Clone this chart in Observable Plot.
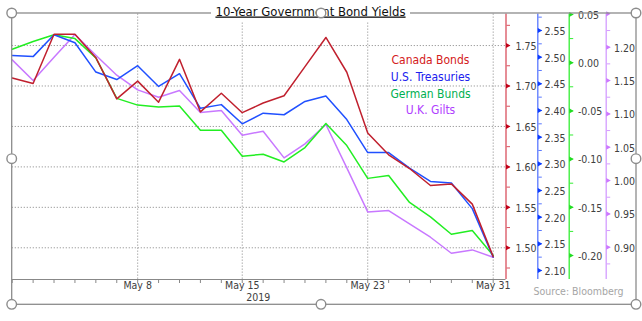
<!DOCTYPE html>
<html><head><meta charset="utf-8">
<script src="https://cdn.jsdelivr.net/npm/d3@7"></script>
<script src="https://cdn.jsdelivr.net/npm/@observablehq/plot@0.6"></script>
<style>
html,body{margin:0;padding:0;background:#fff;}
#chart{width:642px;height:321px;overflow:hidden;}
svg{display:block;}
</style></head><body><div id="chart"></div>
<script>
// ---- data ----
const dates = ["2019-04-30","2019-05-01","2019-05-02","2019-05-03","2019-05-06","2019-05-07","2019-05-08","2019-05-09","2019-05-10","2019-05-13","2019-05-14","2019-05-15","2019-05-16","2019-05-17","2019-05-20","2019-05-21","2019-05-22","2019-05-23","2019-05-24","2019-05-27","2019-05-28","2019-05-29","2019-05-30","2019-05-31"];
const xTickDates = ["2019-05-08","2019-05-15","2019-05-23","2019-05-31"];
const xTickLabels = ["May 8","May 15","May 23","May 31"];
const yearLabel = "2019";
const titleText = "10-Year Government Bond Yields";
const sourceText = "Source: Bloomberg";
const seriesNames = ["Canada Bonds","U.S. Treasuries","German Bunds","U.K. Gilts"];

const canada = [1.710,1.703,1.764,1.764,1.735,1.684,1.706,1.680,1.733,1.668,1.691,1.667,1.679,1.688,1.724,1.760,1.717,1.642,1.615,1.598,1.577,1.579,1.554,1.489];
const us     = [2.503,2.501,2.542,2.527,2.472,2.458,2.484,2.445,2.469,2.404,2.411,2.375,2.395,2.392,2.417,2.427,2.383,2.321,2.321,2.292,2.267,2.264,2.216,2.125];
const german = [0.014,0.022,0.029,0.025,0.005,-0.037,-0.044,-0.046,-0.045,-0.070,-0.070,-0.097,-0.095,-0.103,-0.088,-0.063,-0.086,-0.120,-0.117,-0.145,-0.160,-0.178,-0.174,-0.200];
const uk     = [1.181,1.150,1.185,1.219,1.188,1.158,1.136,1.125,1.135,1.102,1.105,1.068,1.074,1.034,1.055,1.084,1.019,0.953,0.955,0.935,0.915,0.891,0.896,0.885];

const canadaTicks = [1.50,1.55,1.60,1.65,1.70,1.75];
const canadaTickLabels = ["1.50","1.55","1.60","1.65","1.70","1.75"];
const usTicks = [2.10,2.15,2.20,2.25,2.30,2.35,2.40,2.45,2.50,2.55];
const usTickLabels = ["2.10","2.15","2.20","2.25","2.30","2.35","2.40","2.45","2.50","2.55"];
const germanTicks = [-0.20,-0.15,-0.10,-0.05,0.00,0.05];
const germanTickLabels = ["-0.20","-0.15","-0.10","-0.05","0.00","0.05"];
const ukTicks = [0.90,0.95,1.00,1.05,1.10,1.15,1.20,1.25];
const ukTickLabels = ["0.90","0.95","1.00","1.05","1.10","1.15","1.20",""];

// ---- layout / style ----
const FONT = "'DejaVu Sans Condensed','DejaVu Sans',sans-serif";
const W = 642, H = 321;
const frameL = 11.7, frameR = 505.5, frameT = 13.5, frameB = 279;
const step = 20.913;
const xMax = (frameR - frameL) / step;

const series = [
  {name: seriesNames[0], values: canada, domain: [1.4608, 1.789], ticks: canadaTicks, labels: canadaTickLabels, line: "#c0202e", axis: "#d9505e", marker: "#c00018", text: "#d42020", off: 0, pad: 9.5},
  {name: seriesNames[1], values: us, domain: [2.0831, 2.5809], ticks: usTicks, labels: usTickLabels, line: "#2050ff", axis: "#5a78ff", marker: "#0a3cff", text: "#2020ee", off: 31.8, pad: 6.8},
  {name: seriesNames[2], values: german, domain: [-0.2249, 0.0505], ticks: germanTicks, labels: germanTickLabels, line: "#22ee22", axis: "#33ee33", marker: "#22dd22", text: "#00b050", off: 63.2, pad: 8.7},
  {name: seriesNames[3], values: uk, domain: [0.8516, 1.2498], ticks: ukTicks, labels: ukTickLabels, line: "#c878ff", axis: "#d49cff", marker: "#cc77ff", text: "#b040ff", off: 100.2, pad: 7.8}
];
series.forEach(s => {
  s.norm = d3.scaleLinear().domain(s.domain).range([0, 1]);
  const lo = Math.ceil(s.domain[0] / 0.025 - 1e-6), hi = Math.floor(s.domain[1] / 0.025 + 1e-6);
  s.minor = d3.range(lo, hi + 1).map(k => k * 0.025);
});

const drawOrder = [3, 2, 1, 0];
const rows = drawOrder.flatMap(k => series[k].values.map((v, i) => ({i, name: series[k].name, v, n: series[k].norm(v)})));
const xTickIdx = xTickDates.map(d => dates.indexOf(d));

const gridStyle = {stroke: "#a0a0a0", strokeWidth: 1, strokeDasharray: "1.3,1.7"};
const canadaNorm = series[0].norm;

const marks = [
  Plot.ruleY(canadaTicks.map(canadaNorm), gridStyle),
  Plot.ruleX(xTickIdx, gridStyle),
  Plot.ruleY([0], {stroke: "#888888", strokeWidth: 1.2}),
  Plot.axisX(d3.range(dates.length), {anchor: "bottom", tickSize: 4, tickFormat: () => "", stroke: "#888888", label: null}),
  Plot.axisX(xTickIdx, {anchor: "bottom", tickSize: 0, tickPadding: 2.5, tickFormat: d => xTickLabels[xTickIdx.indexOf(d)], fill: "#404040", fontSize: 10.5, label: null}),
  Plot.text([yearLabel], {x: () => xTickIdx[1], text: d => d, frameAnchor: "bottom", dx: 16, dy: 18, lineAnchor: "middle", fill: "#404040", fontSize: 10.5}),
];

series.forEach(s => {
  marks.push(
    Plot.ruleX([xMax], {dx: s.off, stroke: s.axis, strokeWidth: 1.3}),
    Plot.axisY(s.minor.map(s.norm), {anchor: "right", tickSize: 3.5, tickFormat: () => "", stroke: s.axis, dx: s.off, label: null}),
    Plot.dot(s.ticks.map(s.norm), {y: d => d, frameAnchor: "right", symbol: "triangle", rotate: 90, r: 1.9, fill: s.marker, stroke: "none", dx: s.off + 1.5}),
    Plot.text(s.ticks, {y: d => s.norm(d), text: (d, i) => s.labels[i], frameAnchor: "right", textAnchor: "start", lineAnchor: "middle", dx: s.off + s.pad, dy: 1, fill: "#404040", fontSize: 10.5})
  );
});

marks.push(Plot.line(rows, {x: "i", y: "n", z: "name", stroke: "name", strokeWidth: 1.5}));

seriesNames.forEach((name, k) => {
  marks.push(Plot.text([name], {text: d => d, frameAnchor: "top-right", textAnchor: "middle", lineAnchor: "middle", dx: 430 - frameR, dy: 46.5 + k * 16.7, fill: series[k].text, fontSize: 12}));
});

marks.push(Plot.text([sourceText], {text: d => d, frameAnchor: "bottom-right", textAnchor: "end", lineAnchor: "middle", dx: 623 - frameR, dy: 11.7, fill: "#a6a6a6", fontSize: 10.5}));

const plot = Plot.plot({
  width: W, height: H,
  marginLeft: frameL, marginRight: W - frameR, marginTop: frameT, marginBottom: H - frameB,
  x: {domain: [0, xMax], axis: null, label: null},
  y: {domain: [0, 1], axis: null, label: null},
  color: {domain: seriesNames, range: series.map(s => s.line)},
  style: {fontFamily: FONT, background: "transparent", overflow: "visible"},
  marks
});

document.getElementById("chart").appendChild(plot);

// ---- chart-object decorations: frame, title, handles ----
const svg = d3.select(plot);
const box = {x0: 11.7, y0: 13, x1: 636, y1: 304.3};
svg.append("rect").attr("x", box.x0).attr("y", box.y0).attr("width", box.x1 - box.x0).attr("height", box.y1 - box.y0)
  .attr("fill", "none").attr("stroke", "#8c8c8c").attr("stroke-width", 1.3);
svg.append("rect").attr("x", 211).attr("y", 0).attr("width", 199).attr("height", 22).attr("fill", "#fff");
svg.append("text").attr("x", 310.5).attr("y", 15.5).attr("text-anchor", "middle")
  .attr("font-family", FONT).attr("font-size", 13).attr("fill", "#111")
  .attr("text-decoration", "underline").text(titleText);
const midX = 321, midY = (box.y0 + box.y1) / 2;
[[box.x0, box.y0], [midX, box.y0], [box.x1, box.y0], [box.x0, midY], [box.x1, midY], [box.x0, box.y1], [midX, box.y1], [box.x1, box.y1]]
  .forEach(([cx, cy]) => svg.append("circle").attr("cx", cx).attr("cy", cy).attr("r", 4.8)
    .attr("fill", "#fff").attr("stroke", "#8c8c8c").attr("stroke-width", 1.4));
</script></body></html>
